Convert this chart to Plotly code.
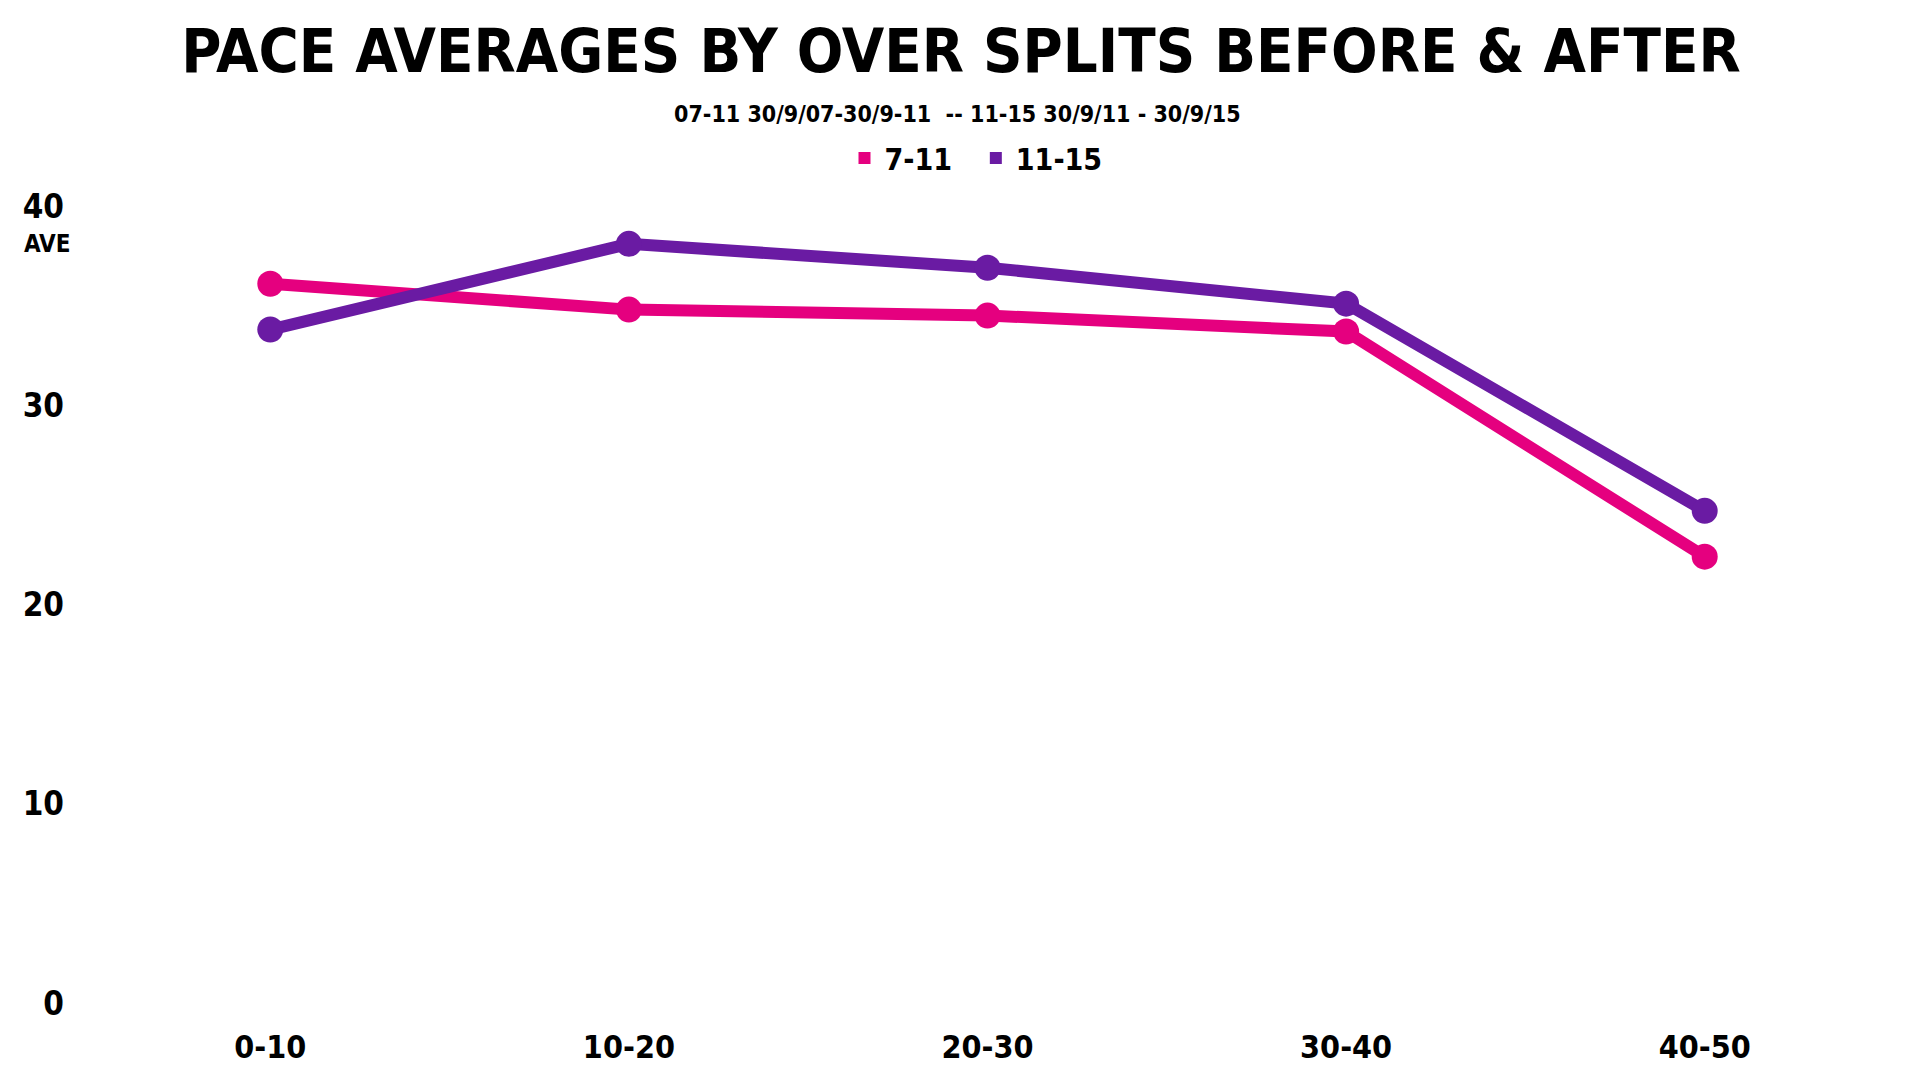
import plotly.graph_objects as go

categories = ["0-10", "10-20", "20-30", "30-40", "40-50"]
series_names = ["7-11", "11-15"]
values_7_11 = [36.1, 34.8, 34.5, 33.7, 22.4]
values_11_15 = [33.8, 38.1, 36.9, 35.1, 24.7]
y_ticks = [0, 10, 20, 30, 40]

PINK = "#E5007F"
PURPLE = "#6A1BA3"
FONT = "DejaVu Sans Condensed, Liberation Sans Narrow, sans-serif"

fig = go.Figure()
for i, (name, vals, col) in enumerate([(series_names[0], values_7_11, PINK), (series_names[1], values_11_15, PURPLE)]):
    fig.add_trace(go.Scatter(
        x=categories, y=vals, mode="lines+markers", name=name,
        line=dict(color=col, width=12), marker=dict(color=col, size=26),
        showlegend=False, cliponaxis=False))
    fig.add_trace(go.Scatter(
        x=[None], y=[None], mode="markers",
        name=name + ("\u00a0\u00a0" if i == 0 else ""),
        marker=dict(color=col, size=12, symbol="square"), showlegend=True))

H = 1080
W = 1920
top, bottom, left, right = 198, 85, 83, 44
ph = H - top - bottom
pw = W - left - right

def py(ypx):
    return (H - bottom - ypx) / ph

def px(xpx):
    return (xpx - left) / pw

fig.update_layout(
    width=W, height=H,
    paper_bgcolor="white", plot_bgcolor="white",
    margin=dict(l=left, r=right, t=top, b=bottom),
    font=dict(family=FONT, color="black"),
    title=dict(text="PACE AVERAGES BY OVER SPLITS BEFORE &amp; AFTER",
               x=(969 - 16) / W, xanchor="center", y=1 - 43 / H, yanchor="middle",
               xref="container", yref="container",
               font=dict(size=61, family=FONT, color="black", weight="bold")),
    legend=dict(orientation="h", x=px(968), xanchor="center", y=py(150), yanchor="middle",
                font=dict(size=30, family=FONT, color="black", weight="bold"),
                itemwidth=30, bgcolor="rgba(0,0,0,0)"),
    xaxis=dict(type="category", range=[-0.5, 4.5], showgrid=False, zeroline=False,
               showline=False, ticks="", ticklabelstandoff=22,
               tickfont=dict(size=32, family=FONT, color="black", weight="bold")),
    yaxis=dict(range=[0, 40], tickvals=y_ticks, showgrid=False, zeroline=False,
               showline=False, ticks="", ticklabelstandoff=26,
               tickfont=dict(size=33, family=FONT, color="black", weight="bold")),
    annotations=[
        dict(text="07-11 30/9/07-30/9-11  -- 11-15 30/9/11 - 30/9/15",
             xref="paper", yref="paper", x=px(949), y=py(106), xanchor="center", yanchor="middle",
             showarrow=False, font=dict(size=23, family=FONT, color="black", weight="bold")),
        dict(text="AVE", xref="paper", yref="paper",
             x=px(39), y=py(236), xanchor="center", yanchor="middle",
             showarrow=False, font=dict(size=24, family=FONT, color="black", weight="bold")),
    ],
)
fig.update_xaxes(automargin=False)
fig.update_yaxes(automargin=False)
fig.write_html("out.html")
